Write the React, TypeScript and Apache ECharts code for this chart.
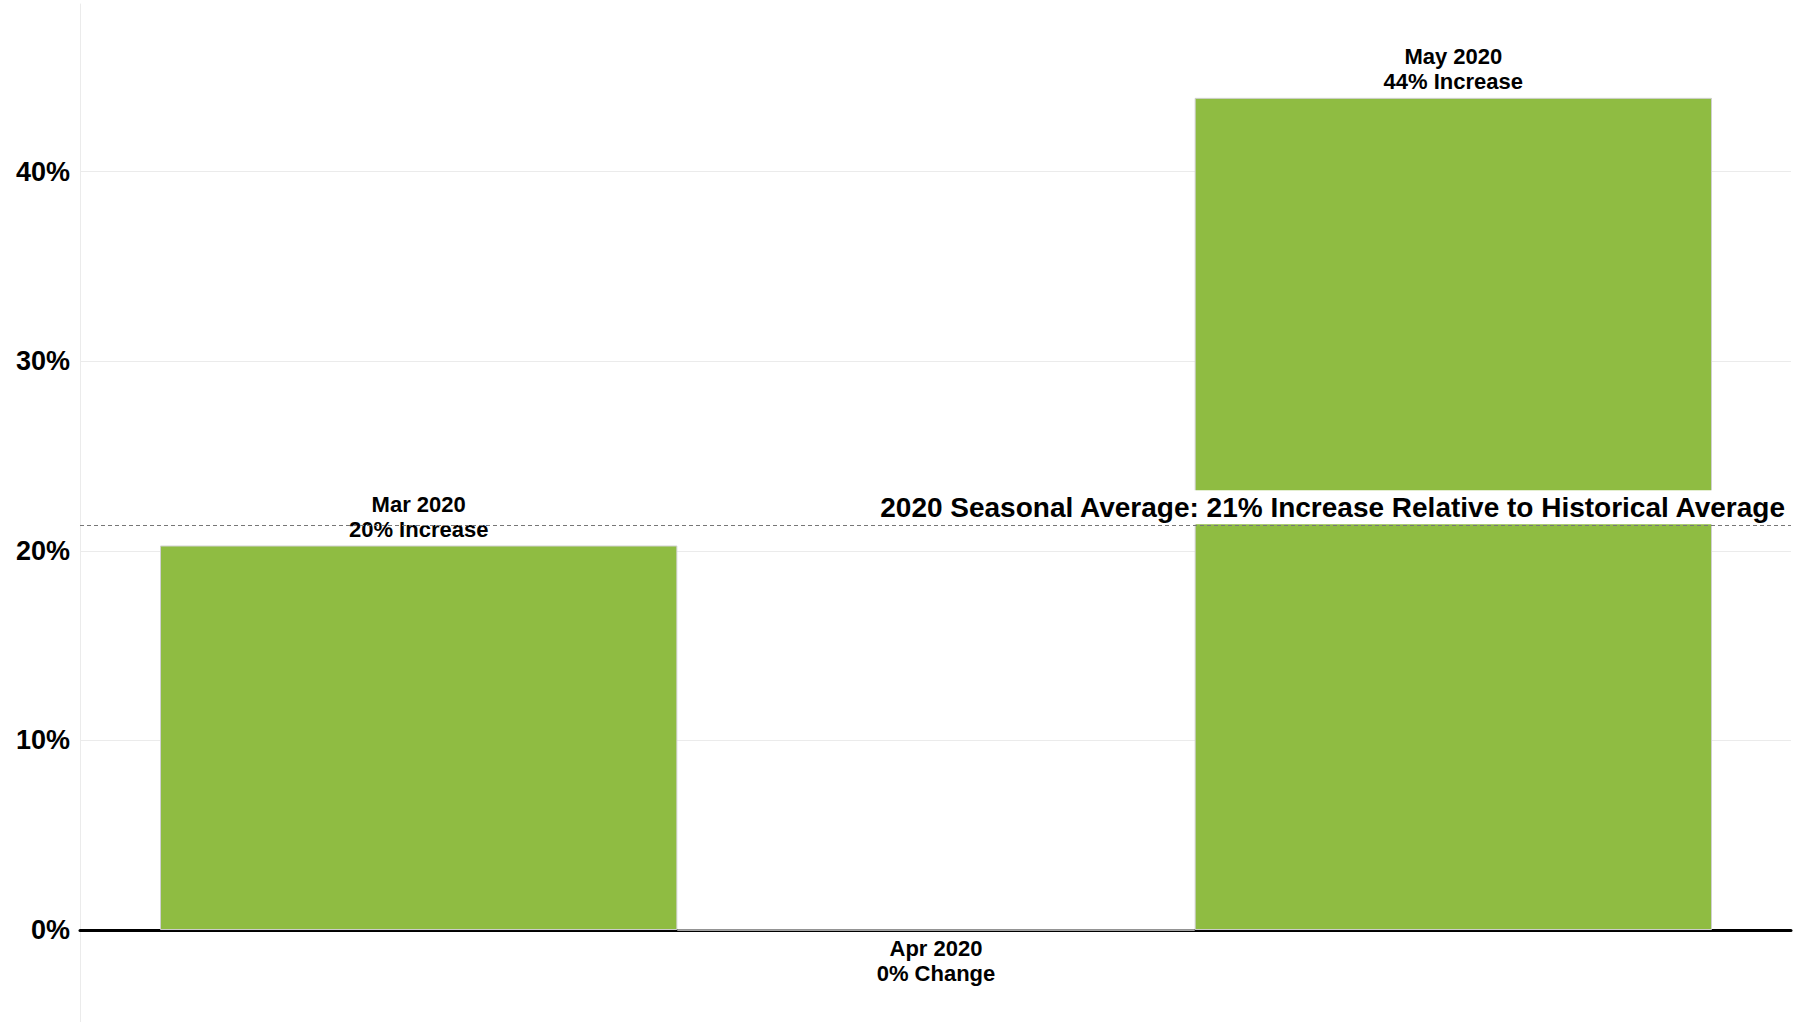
import React, { useEffect, useRef } from "react";
import * as echarts from "echarts";

const categories = ["Mar 2020", "Apr 2020", "May 2020"];
const values = [0.2028, 0, 0.4389];
const seasonalAverage = 0.2135;
const yMin = -0.0485;
const yMax = 0.4884;

const FONT = "'Liberation Sans', Arial, sans-serif";
const BAR_COLOR = "#8fbc42";

export default function App() {
  const ref = useRef<HTMLDivElement>(null);

  useEffect(() => {
    if (!ref.current) return;
    const chart = echarts.init(ref.current, null, { renderer: "svg" });

    const avgPct = Math.round(seasonalAverage * 100);

    const option = {
      animation: false,
      backgroundColor: "#ffffff",
      grid: [
        { left: 80, right: 9, top: 4, bottom: 0, containLabel: false },
        { left: 160, right: 88, top: 4, bottom: 0, containLabel: false },
      ],
      xAxis: [
        {
          gridIndex: 0,
          type: "value",
          min: 0,
          max: 1,
          axisLine: { show: true, onZero: true, lineStyle: { color: "#000000", width: 3 } },
          axisTick: { show: false },
          axisLabel: { show: false },
          splitLine: { show: false },
        },
        {
          gridIndex: 1,
          type: "category",
          data: categories,
          show: false,
          boundaryGap: true,
        },
      ],
      yAxis: [
        {
          gridIndex: 0,
          type: "value",
          min: yMin,
          max: yMax,
          splitNumber: 5,
          axisLine: { show: true, lineStyle: { color: "#ebebeb", width: 1 } },
          axisTick: { show: false },
          axisLabel: {
            show: true,
            showMinLabel: false,
            showMaxLabel: false,
            margin: 10,
            color: "#000000",
            fontFamily: FONT,
            fontWeight: "bold",
            fontSize: 27,
            formatter: (v: number) => {
              const t = v * 10;
              if (Math.abs(t - Math.round(t)) > 1e-6) return "";
              return `${Math.round(v * 100)}%`;
            },
          },
          splitLine: {
            show: true,
            showMinLine: false,
            showMaxLine: false,
            lineStyle: { color: "#ebebeb", width: 1 },
          },
        },
        {
          gridIndex: 1,
          type: "value",
          min: yMin,
          max: yMax,
          show: false,
          splitLine: { show: false },
        },
      ],
      series: [
        {
          type: "bar",
          xAxisIndex: 1,
          yAxisIndex: 1,
          barWidth: "100%",
          z: 2,
          itemStyle: { color: BAR_COLOR, borderColor: "#d0d0d0", borderWidth: 1 },
          data: values.map((v) => ({
            value: v,
            label: v > 0 ? { position: "top", distance: 4 } : { position: "bottom", distance: 5 },
          })),
          label: {
            show: true,
            color: "#000000",
            fontFamily: FONT,
            fontWeight: "bold",
            fontSize: 22,
            lineHeight: 25,
            align: "center",
            formatter: (p: any) => {
              const v = values[p.dataIndex];
              const word = v > 0 ? "Increase" : "Change";
              return `${categories[p.dataIndex]}\n${Math.round(v * 100)}% ${word}`;
            },
          },
        },
        {
          type: "line",
          xAxisIndex: 0,
          yAxisIndex: 0,
          data: [],
          symbol: "none",
          z: 5,
          markLine: {
            silent: true,
            symbol: "none",
            precision: 4,
            z: 5,
            lineStyle: { color: "#777777", width: 1, type: [4, 3] },
            label: {
              show: true,
              position: "insideEndTop",
              distance: [6, 1],
              formatter: `2020 Seasonal Average: ${avgPct}% Increase Relative to Historical Average`,
              color: "#000000",
              fontFamily: FONT,
              fontWeight: "bold",
              fontSize: 28,
              lineHeight: 28,
              backgroundColor: "#ffffff",
              padding: [3, 0, 3, 0],
            },
            data: [{ yAxis: seasonalAverage }],
          },
        },
      ],
    };

    chart.setOption(option as any);
    return () => {
      chart.dispose();
    };
  }, []);

  return (
    <div
      ref={ref}
      style={{ position: "fixed", left: 0, top: 0, width: 1800, height: 1022, background: "#ffffff" }}
    />
  );
}
